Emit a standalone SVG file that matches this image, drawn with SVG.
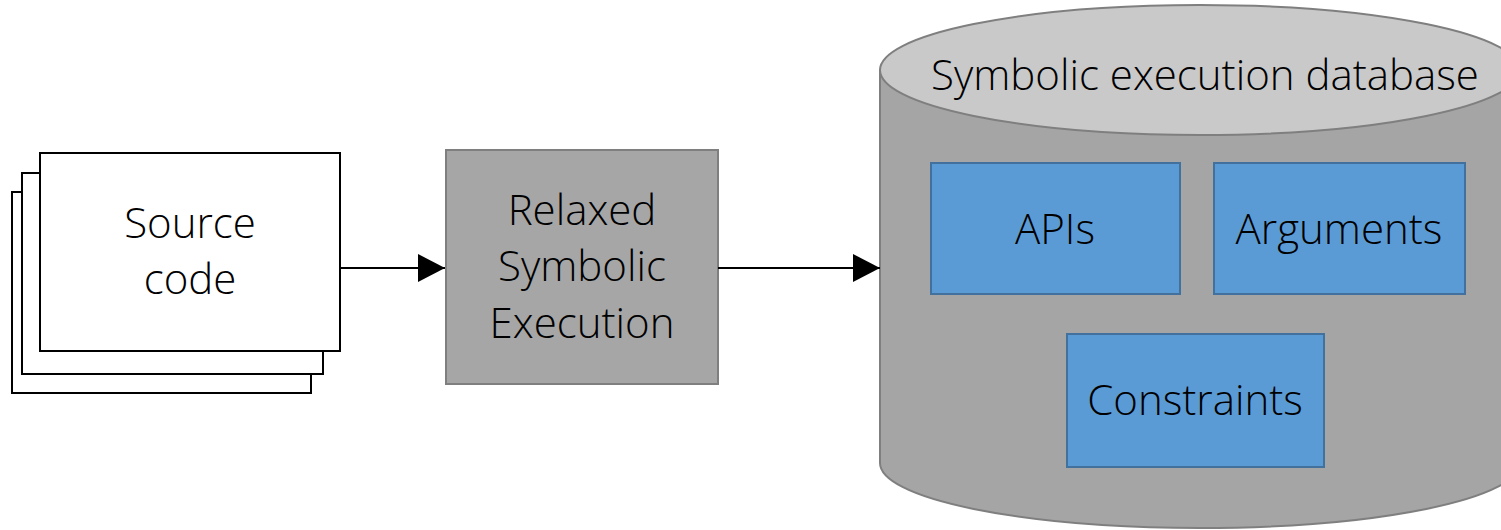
<svg xmlns="http://www.w3.org/2000/svg" width="1501" height="530" viewBox="0 0 1501 530">
<style>
text{font-family:"Open Sans","Liberation Sans",sans-serif;font-weight:300;font-size:42px;fill:#000;text-anchor:middle}
.page{fill:#fff;stroke:#000;stroke-width:2}
.blue{fill:#5b9bd5;stroke:#41719c;stroke-width:2}
.conn{stroke:#000;stroke-width:2;fill:none}
</style>
<defs>
<marker id="arr" markerUnits="userSpaceOnUse" markerWidth="28" markerHeight="28" refX="27" refY="14" orient="auto">
<path d="M0,0 L27,14 L0,28 Z" fill="#000"/>
</marker>
</defs>
<rect width="1501" height="530" fill="#fff"/>
<g id="source">
<rect class="page" x="12" y="192" width="299" height="201"/>
<rect class="page" x="22" y="173" width="301" height="201"/>
<rect class="page" x="40" y="153" width="300" height="198"/>
<text x="190" y="238">Source</text>
<text x="190" y="294">code</text>
</g>
<g id="rse">
<rect x="446" y="150" width="272" height="234" fill="#a6a6a6" stroke="#7f7f7f" stroke-width="2"/>
<text x="582" y="225">Relaxed</text>
<text x="582" y="281">Symbolic</text>
<text x="582" y="338">Execution</text>
</g>
<g id="db">
<path d="M880,70 L880,463 A320,65 0 0 0 1520,463 L1520,70 Z" fill="#a5a5a5" stroke="#7f7f7f" stroke-width="2"/>
<ellipse cx="1200" cy="70" rx="320" ry="65" fill="#c9c9c9" stroke="#7f7f7f" stroke-width="2"/>
<text x="1205" y="90">Symbolic execution database</text>
</g>
<g id="apis">
<rect class="blue" x="931" y="163" width="249" height="131"/>
<text x="1055" y="244">APIs</text>
</g>
<g id="arguments">
<rect class="blue" x="1214" y="163" width="251" height="131"/>
<text x="1339" y="244">Arguments</text>
</g>
<g id="constraints">
<rect class="blue" x="1067" y="334" width="257" height="133"/>
<text x="1195" y="415">Constraints</text>
</g>
<g id="connectors">
<line class="conn" x1="340" y1="268" x2="445" y2="268" marker-end="url(#arr)"/>
<line class="conn" x1="718" y1="268" x2="880" y2="268" marker-end="url(#arr)"/>
</g>
</svg>
